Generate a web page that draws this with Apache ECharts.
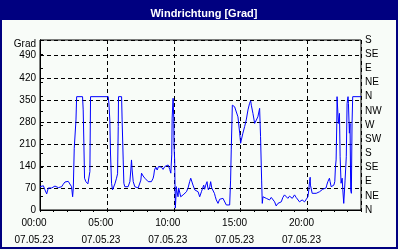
<!DOCTYPE html>
<html><head><meta charset="utf-8">
<script src="https://cdn.jsdelivr.net/npm/echarts@6/dist/echarts.min.js"></script>
<style>html,body{margin:0;padding:0;background:#f8fcf8;}#c{width:400px;height:250px;}</style>
</head><body><div id="c"></div>
<script>
var titleText = 'Windrichtung [Grad]';
var yName = 'Grad';
var dateLabel = '07.05.23';
var leftTicks = [0, 70, 140, 210, 280, 350, 420, 490];
var compassLabels = ['N','NE','E','SE','S','SW','W','NW','N','NE','E','SE','S'];
var times = [0.00,0.12,0.25,0.37,0.50,0.62,0.75,0.87,1.00,1.12,1.24,1.37,1.49,1.62,1.74,1.87,1.99,2.11,2.24,2.36,2.44,2.49,2.56,2.69,2.74,3.18,3.23,3.28,3.33,3.43,3.58,3.68,3.73,3.78,5.10,5.15,5.22,5.27,5.35,5.42,5.52,5.60,5.72,5.80,5.85,5.87,6.10,6.14,6.22,6.27,6.34,6.47,6.59,6.72,6.79,6.84,6.89,6.97,7.09,7.21,7.34,7.46,7.54,7.59,7.71,7.84,7.96,8.09,8.21,8.33,8.46,8.51,8.56,8.66,8.76,8.86,8.96,9.08,9.20,9.33,9.45,9.58,9.65,9.70,9.78,9.85,9.88,9.90,9.95,10.00,10.02,10.07,10.12,10.20,10.22,10.27,10.32,10.37,10.42,10.52,10.62,10.70,10.82,10.95,11.07,11.19,11.27,11.34,11.44,11.57,11.69,11.82,11.94,12.07,12.19,12.24,12.31,12.39,12.44,12.49,12.54,12.59,12.69,12.76,12.84,12.94,13.04,13.11,13.18,13.31,13.43,13.56,13.68,13.81,13.93,14.06,14.18,14.25,14.30,14.38,14.43,14.55,14.68,14.80,14.93,15.00,15.05,15.17,15.30,15.42,15.55,15.67,15.75,15.80,15.92,16.05,16.17,16.29,16.42,16.49,16.57,16.62,16.67,16.79,16.92,17.04,17.16,17.29,17.41,17.54,17.66,17.79,17.91,18.04,18.16,18.28,18.41,18.53,18.66,18.78,18.86,18.96,19.03,19.15,19.28,19.40,19.53,19.60,19.70,19.78,19.90,20.03,20.10,20.15,20.20,20.22,20.35,20.65,20.77,20.90,21.02,21.14,21.27,21.39,21.44,21.52,21.59,21.64,21.69,21.77,21.89,21.97,22.04,22.09,22.14,22.19,22.21,22.26,22.31,22.39,22.44,22.51,22.59,22.64,22.71,22.76,22.81,22.90,22.96,23.03,23.06,23.13,23.18,23.23,23.28,23.33,23.38,24.00];
var values = [74,69,77,64,51,70,74,70,74,76,72,71,68,74,82,89,92,91,86,74,42,70,196,286,360,360,318,213,101,90,83,83,122,360,360,340,286,181,85,64,70,83,101,115,265,360,360,286,159,85,74,71,74,90,127,159,127,90,74,71,70,74,95,117,108,101,95,90,95,90,101,111,127,136,127,138,133,136,129,138,140,143,148,129,117,175,292,296,355,292,201,159,6,74,64,70,42,70,64,42,42,48,53,58,70,90,101,95,79,64,70,58,42,58,64,79,66,79,85,90,72,64,74,90,70,74,53,42,32,21,34,32,37,32,16,10,16,95,191,333,333,328,330,296,244,212,222,244,265,286,318,339,347,333,307,275,270,296,323,233,95,21,42,40,37,40,32,40,40,26,13,21,16,26,40,48,42,37,44,48,37,40,48,40,37,26,22,32,37,26,32,42,64,90,104,79,53,53,55,58,64,66,66,70,79,90,95,101,90,74,74,79,90,138,159,275,360,360,275,307,169,85,101,64,21,21,95,169,339,360,339,244,275,64,53,275,360,360];

var seriesData = times.map(function(t, i){ return [t, values[i]]; });
function pad(n){ return (n < 10 ? '0' : '') + n; }

var chart = echarts.init(document.getElementById('c'), null, {renderer: 'canvas'});
var font = 'Liberation Sans';
chart.setOption({
  animation: false,
  backgroundColor: '#f8fcf8',
  graphic: [
    {type: 'rect', shape: {x: 0, y: 0, width: 398, height: 249}, style: {fill: '#000080'}, z: -10, silent: true},
    {type: 'rect', shape: {x: 2, y: 20, width: 394, height: 227}, style: {fill: '#f8fcf8'}, z: -9, silent: true}
  ],
  title: {
    text: titleText, left: 199, top: 3, textAlign: 'center',
    textStyle: {color: '#ffffff', fontFamily: font, fontWeight: 'bold', fontSize: 11}
  },
  grid: {left: 40, top: 40, width: 321, height: 170, show: true, borderColor: '#000', borderWidth: 1, backgroundColor: 'transparent'},
  xAxis: [{
    type: 'value', min: 0, max: 24, interval: 1,
    axisLine: {show: true, lineStyle: {color: '#000', width: 1}},
    axisTick: {show: true, length: 2, lineStyle: {color: '#000'}},
    splitLine: {show: false},
    axisLabel: {
      color: '#000', fontFamily: font, fontSize: 10, margin: 5, lineHeight: 17, padding: [0, 12, 0, 0],
      formatter: function(v){ return (v % 5 === 0) ? pad(v) + ':00\n' + dateLabel : ''; }
    }
  }, {
    type: 'value', min: 0, max: 24, interval: 5, position: 'bottom',
    axisLine: {show: false}, axisTick: {show: false}, axisLabel: {show: false},
    splitLine: {show: true, lineStyle: {color: '#000', type: [4, 3], width: 1}}
  }],
  yAxis: [{
    type: 'value', min: 0, max: 540, interval: 70,
    name: yName, nameLocation: 'end', nameGap: -4,
    nameTextStyle: {color: '#000', fontFamily: font, fontSize: 10, align: 'right', verticalAlign: 'middle', padding: [0, 4, 0, 0]},
    axisLine: {show: true, lineStyle: {color: '#000'}},
    axisTick: {show: false},
    axisLabel: {color: '#000', fontFamily: font, fontSize: 10, margin: 4, showMaxLabel: false,
      formatter: function(v){ return leftTicks.indexOf(v) >= 0 ? String(v) : ''; }},
    splitLine: {show: true, lineStyle: {color: '#000', type: [4, 3], width: 1}}
  }, {
    type: 'value', min: 0, max: 540, interval: 45, position: 'right',
    axisLine: {show: true, lineStyle: {color: '#000'}},
    axisTick: {show: true, length: 3, inside: false, lineStyle: {color: '#000'}},
    axisLabel: {color: '#000', fontFamily: font, fontSize: 10, margin: 4,
      formatter: function(v){ return compassLabels[Math.round(v / 45)] || ''; }},
    splitLine: {show: false}
  }],
  series: [{
    type: 'line', xAxisIndex: 0, yAxisIndex: 0, data: seriesData,
    showSymbol: false, symbol: 'none',
    lineStyle: {color: '#0000ff', width: 1}, z: 5
  }]
});
</script></body></html>
